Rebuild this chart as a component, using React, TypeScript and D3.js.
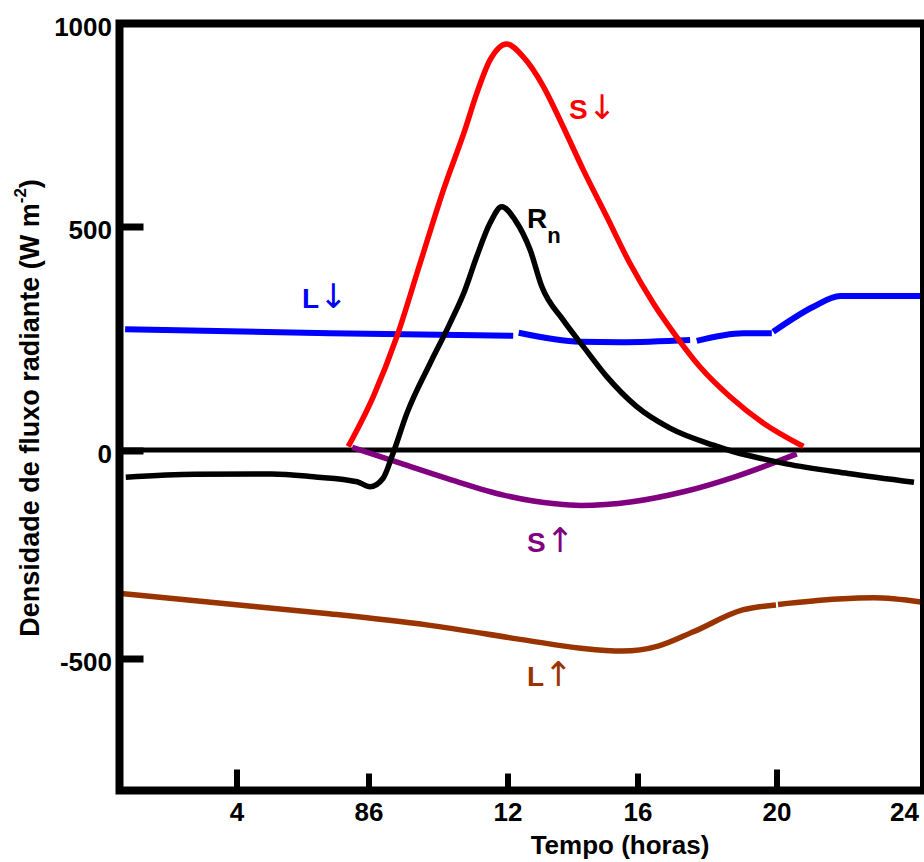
import React from 'react';
import * as d3 from 'd3';

// ---- axis ticks ----
const hourTicks = [4, 8, 12, 16, 20, 24];
const hourTickLabels = ['4', '86', '12', '16', '20', '24'];
const hourTickLong = [true, false, false, false, true, false];
const fluxTicks = [1000, 500, 0, -500];
const fluxTickLabels = ['1000', '500', '0', '-500'];

// ---- series (hours, W m-2) ----
const sDownHours = [7.37, 8.12, 8.8, 9.47, 10.14, 10.76, 11.1, 11.48, 11.96, 12.47, 13.09, 13.65, 14.32, 15.04, 15.75, 16.44, 17.11, 17.78, 18.65, 19.61, 20.79];
const sDownValues = [10, 121, 255, 419, 591, 739, 829, 911, 951, 919, 846, 755, 640, 525, 419, 330, 255, 188, 121, 62, 10];

const rnHours = [0.73, 2.77, 5.06, 6.32, 7.64, 8.03, 8.4, 8.69, 9.09, 9.76, 10.33, 10.76, 11.1, 11.48, 11.82, 12.22, 12.68, 13.04, 13.7, 14.32, 15.04, 15.96, 16.92, 18.17, 18.81, 19.6, 20.28, 22.13, 24.1];
const rnValues = [-63, -56, -55, -62, -74, -86, -66, -6, 84, 196, 285, 359, 434, 509, 550, 517, 449, 367, 292, 233, 166, 99, 51, 13, -3, -19, -31, -54, -75];

const lDownHours = [0.71, 6.82, 12.16, 12.33, 14.22, 15.45, 17.5, 17.69, 19.03, 19.85, 19.89, 21.09, 21.89, 24.28];
const lDownValues = [272, 263, 257, 264, 244, 243, 248, 246, 263, 263, 266, 322, 346, 346];
const lDownBreaks = [3, 7, 10];

const sUpHours = [7.49, 8.92, 10.39, 11.87, 13.45, 14.24, 15.82, 17.31, 18.79, 20.59];
const sUpValues = [8, -30, -70, -106, -127, -131, -122, -98, -62, -7];

const lUpHours = [0.5, 3.53, 6.63, 9.66, 12.49, 14.24, 15.51, 16.58, 17.61, 19.01, 19.97, 20.03, 21.82, 22.9, 24.31];
const lUpValues = [-342, -366, -390, -418, -454, -474, -481, -469, -434, -382, -370, -369, -356, -353, -363];
const lUpBreaks = [11];

const FONT = '"Liberation Sans", Arial, Helvetica, sans-serif';
const ARROW_FONT = '"DejaVu Sans", sans-serif';

function splitSeries(hours: number[], values: number[], breaks: number[] = []) {
  const pts = hours.map((h, i) => [h, values[i]] as [number, number]);
  const cuts = [0, ...breaks, pts.length];
  const segs: [number, number][][] = [];
  for (let i = 0; i < cuts.length - 1; i++) segs.push(pts.slice(cuts[i], cuts[i + 1]));
  return segs;
}

function Arrow({ ch }: { ch: string }) {
  return (
    <tspan fontFamily={ARROW_FONT} fontWeight="normal" fontSize={34}>
      {ch}
    </tspan>
  );
}

export default function App() {
  const W = 924;
  const H = 862;
  const x = d3.scaleLinear().domain([0.56, 4, 8, 12, 16, 20, 24.31]).range([120, 237, 369, 508, 638, 777, 921]);
  const y = d3.scaleLinear().domain([-815, -500, 0, 500, 1000]).range([790, 659, 451, 227, 24]);

  const line = d3
    .line<[number, number]>()
    .x((d) => x(d[0]))
    .y((d) => y(d[1]))
    .curve(d3.curveMonotoneX);

  const series = [
    { segs: splitSeries(lDownHours, lDownValues, lDownBreaks), color: '#0000ff', w: 6 },
    { segs: splitSeries(sUpHours, sUpValues), color: '#800080', w: 5.5 },
    { segs: splitSeries(rnHours, rnValues), color: '#000000', w: 5.5 },
    { segs: splitSeries(sDownHours, sDownValues), color: '#ff0000', w: 5.5 },
    { segs: splitSeries(lUpHours, lUpValues, lUpBreaks), color: '#993300', w: 5.5 },
  ];

  const left = 119.5;
  const right = 924;
  const top = 23.5;
  const bottom = 790.5;

  return (
    <svg
      width={W}
      height={H}
      style={{ position: 'absolute', left: 0, top: 0, background: '#fff' }}
      fontFamily={FONT}
      fontWeight="bold"
    >
      <rect x={0} y={0} width={W} height={H} fill="#fff" />
      {/* zero line */}
      <line x1={left} x2={right} y1={y(0) - 1} y2={y(0) - 1} stroke="#000" strokeWidth={5} />
      {/* curves */}
      {series.map((s, i) =>
        s.segs.map((seg, j) => (
          <path key={`${i}-${j}`} d={line(seg) || ''} fill="none" stroke={s.color} strokeWidth={s.w} />
        ))
      )}
      {/* frame */}
      <path
        d={`M${left},${bottom}V${top}H${right}M${left - 4},${bottom}H${right}`}
        fill="none"
        stroke="#000"
        strokeWidth={8}
      />
      <line x1={right} x2={right} y1={top} y2={bottom} stroke="#000" strokeWidth={8} />
      {/* y ticks */}
      {fluxTicks.map((v, i) => (
        <g key={`yt${i}`}>
          {v < 1000 && (
            <line x1={left} x2={left + 24} y1={y(v)} y2={y(v)} stroke="#000" strokeWidth={7} />
          )}
          <text x={112} y={y(v) + 3} textAnchor="end" dominantBaseline="central" fontSize={26}>
            {fluxTickLabels[i]}
          </text>
        </g>
      ))}
      {/* x ticks */}
      {hourTicks.map((h, i) => (
        <g key={`xt${i}`}>
          {h < 24 && (
            <line
              x1={x(h)}
              x2={x(h)}
              y1={bottom - 2}
              y2={bottom - (hourTickLong[i] ? 21 : 17)}
              stroke="#000"
              strokeWidth={6}
            />
          )}
          <text
            x={h < 24 ? x(h) : right - 5}
            y={812}
            textAnchor={h < 24 ? 'middle' : 'end'}
            dominantBaseline="central"
            fontSize={26}
          >
            {hourTickLabels[i]}
          </text>
        </g>
      ))}
      {/* axis titles */}
      <text x={620} y={845} textAnchor="middle" dominantBaseline="central" fontSize={26}>
        Tempo (horas)
      </text>
      <text
        transform={`translate(30,${408}) rotate(-90)`}
        textAnchor="middle"
        dominantBaseline="central"
        fontSize={27}
      >
        Densidade de fluxo radiante (W m
        <tspan baselineShift="super" fontSize={17}>-2</tspan>)
      </text>
      {/* series labels */}
      <text x={569} y={119} fill="#ff0000" fontSize={28}>
        S<Arrow ch="↓" />
      </text>
      <text x={527} y={228} fill="#000" fontSize={28}>
        R<tspan fontSize={22} dy={15}>n</tspan>
      </text>
      <text x={302} y={308} fill="#0000ff" fontSize={28}>
        L<Arrow ch="↓" />
      </text>
      <text x={527} y={552} fill="#800080" fontSize={28}>
        S<Arrow ch="↑" />
      </text>
      <text x={527} y={686} fill="#993300" fontSize={28}>
        L<Arrow ch="↑" />
      </text>
    </svg>
  );
}
